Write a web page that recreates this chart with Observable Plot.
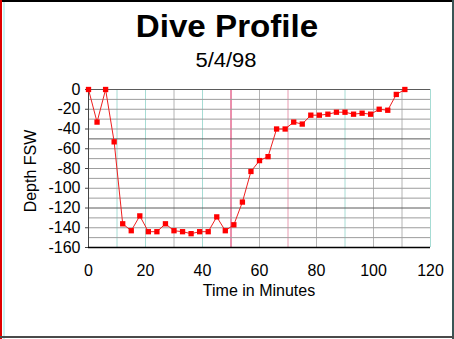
<!DOCTYPE html>
<html><head><meta charset="utf-8">
<script src="https://cdn.jsdelivr.net/npm/d3@7"></script>
<script src="https://cdn.jsdelivr.net/npm/@observablehq/plot@0.6"></script>
<style>
html,body{margin:0;padding:0;background:#fff;}
#frame{position:relative;width:454px;height:339px;overflow:hidden;background:#fff;font-family:"Liberation Sans",Arial,sans-serif;}
#chart{position:absolute;left:0;top:0;}
.t{position:absolute;white-space:nowrap;color:#000;line-height:1;}
.b{position:absolute;}
</style></head><body>
<div id="frame">
  <div id="chart"></div>
  <div class="t" id="title" style="left:0;width:454px;top:11px;font-size:31px;font-weight:bold;text-align:center;transform:scaleX(1.07);">Dive Profile</div>
  <div class="t" id="subtitle" style="left:0;width:452px;top:50px;font-size:20px;text-align:center;transform:scaleX(1.1);">5/4/98</div>
  <div class="t" id="xlabel" style="left:159px;width:200px;top:283px;font-size:16px;text-align:center;">Time in Minutes</div>
  <div class="t" id="ylabel" style="left:-69px;width:200px;top:163px;height:16px;font-size:16px;text-align:center;transform:rotate(-90deg);">Depth FSW</div>
  <div class="b" style="left:0;top:0;width:454px;height:2px;background:#000;"></div>
  <div class="b" style="left:0;top:0;width:2px;height:339px;background:#e00000;"></div>
  <div class="b" style="left:3px;top:2px;width:2px;height:337px;background:#c8f4f4;"></div>
  <div class="b" style="left:452px;top:0;width:2px;height:339px;background:#3a5656;"></div>
  <div class="b" style="left:0;top:336px;width:454px;height:2px;background:#4a4a4a;"></div>
</div>
<script>
// Dive profile samples (minutes, depth in feet of sea water)
const minutes = [0, 3, 6, 9, 12, 15, 18, 21, 24, 27, 30, 33, 36, 39, 42, 45, 48, 51, 54, 57, 60, 63, 66, 69, 72, 75, 78, 81, 84, 87, 90, 93, 96, 99, 102, 105, 108, 111];
const depths  = [0, -33, 0, -53, -136, -143, -128, -144, -144, -136, -143, -144, -146, -144, -144, -129, -143, -137, -114, -83, -72, -68, -40, -40, -33, -35, -26, -26, -25, -23, -23, -25, -24, -25, -20, -21, -5, 0];
const xTicks = [0, 20, 40, 60, 80, 100, 120];
const yTicks = [0, -20, -40, -60, -80, -100, -120, -140, -160];
const xGrid = [10, 20, 30, 40, 50, 60, 70, 80, 90, 100, 110, 120];
const yGrid = [0, -10, -20, -30, -40, -50, -60, -70, -80, -90, -100, -110, -120, -130, -140, -150];

const data = minutes.map((t, i) => ({t, d: depths[i]}));

const vColor = v => v === 50 ? "#d8205a" : v === 70 ? "#e89ab0" :
  [10, 20, 40, 90, 120].includes(v) ? "#a6dcd4" : "#b4b4b4";
const hColor = v => [0, -50, -120].includes(v) ? "#5a5a5a" : "#9c9c9c";

const chart = Plot.plot({
  width: 454,
  height: 339,
  marginLeft: 88,
  marginRight: 24,
  marginTop: 89,
  marginBottom: 92,
  style: {fontFamily: "'Liberation Sans', Arial, sans-serif", fontSize: "16px", color: "#000", background: "transparent"},
  x: {domain: [0, 120]},
  y: {domain: [-160, 0]},
  color: {type: "identity"},
  marks: [
    Plot.ruleX(xGrid, {x: d => d, stroke: vColor, strokeWidth: 1}),
    Plot.ruleY(yGrid, {y: d => d, stroke: hColor, strokeWidth: 1}),
    Plot.ruleX([0], {stroke: "#444"}),
    Plot.ruleY([-160], {stroke: "#000", strokeWidth: 1.5}),
    Plot.axisX(xTicks, {tickSize: 0, tickPadding: 17, tickFormat: d => String(d), label: null, fontSize: 16, fill: "#000"}),
    Plot.axisY(yTicks, {tickSize: 3, tickPadding: 5, tickFormat: d => String(d), label: null, fontSize: 16, fill: "#000", stroke: "#444"}),
    Plot.line(data, {x: "t", y: "d", stroke: "#ee2020", strokeWidth: 1}),
    Plot.dot(data, {x: "t", y: "d", symbol: "square", r: 3, fill: "#ff0000", stroke: "none"})
  ]
});
document.getElementById("chart").appendChild(chart);
</script>
</body></html>
